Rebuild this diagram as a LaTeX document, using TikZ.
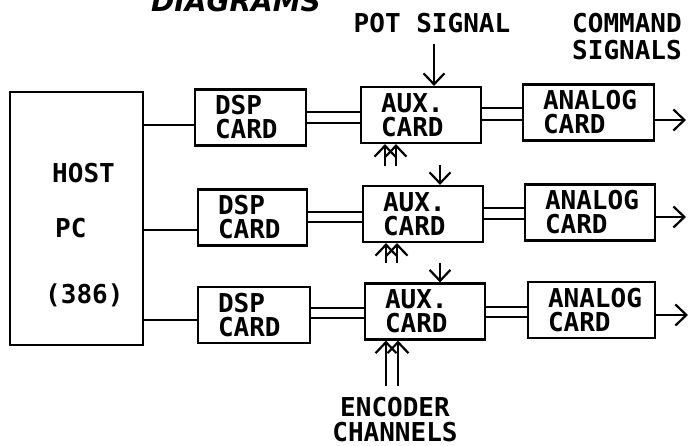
\documentclass[tikz,border=0pt]{standalone}
\usepackage{fontspec}
\newfontfamily\plotfont{DejaVu Sans Mono}
\newfontfamily\headfont{DejaVu Sans}
\usetikzlibrary{arrows.meta}
\tikzset{
    card/.style={draw, line width=2.2pt, align=left, inner xsep=20pt, minimum height=56pt,
        font=\plotfont\bfseries\fontsize{26}{24}\selectfont},
    lbl/.style={font=\plotfont\bfseries\fontsize{26}{26}\selectfont, inner sep=0pt},
    link/.style={line width=2.2pt},
    sig/.style={line width=2.2pt, -{Straight Barb[length=11pt,width=21pt,line width=2.2pt]}}
}
\begin{document}
\begin{tikzpicture}[x=1pt, y=-1pt]
        \useasboundingbox (0,0) rectangle (691,446);
        \clip (0,0) rectangle (691,446);

        % Heading, cut at the top edge
        \node[font=\headfont\bfseries\itshape\fontsize{28}{28}\selectfont, anchor=base] (head) at (236,12) {DIAGRAMS};

        % Host computer
        \node[draw, line width=2.2pt, minimum width=133pt, minimum height=253pt] (host) at (76.5,218.5) {};
        \node[lbl, anchor=west] (hostA) at (52,173) {HOST};
        \node[lbl, anchor=west] (hostB) at (55,228) {PC};
        \node[lbl, anchor=west] (hostC) at (45,295) {(386)};

        % Labels
        \node[lbl] (pot) at (432,23) {POT SIGNAL};
        \node[lbl, font=\plotfont\bfseries\fontsize{26}{27}\selectfont, align=left, anchor=north west] (cmd) at (572,13) {COMMAND\\SIGNALS};
        \node[lbl, font=\plotfont\bfseries\fontsize{26}{25}\selectfont, align=center, anchor=north] (enc) at (395,397) {ENCODER\\CHANNELS};

        % Row 1
        \node[card, text width=71pt] (dspA) at (250.5,117.5) {DSP\\CARD};
        \node[card, text width=80pt] (auxA) at (421,115) {AUX.\\CARD};
        \node[card, text width=91pt] (anaA) at (588.5,112.5) {ANALOG\\CARD};
        \draw[link] ([yshift=-7.5pt]dspA.west) -- ([yshift=-7.5pt]dspA.west -| host.east);
        \draw[link] ([yshift=5.5pt]dspA.east) -- ([yshift=5.5pt]dspA.east -| auxA.west);
        \draw[link] ([yshift=-5.5pt]dspA.east) -- ([yshift=-5.5pt]dspA.east -| auxA.west);
        \draw[link] ([yshift=4.5pt]anaA.west) -- ([yshift=4.5pt]anaA.west -| auxA.east);
        \draw[link] ([yshift=-7.5pt]anaA.west) -- ([yshift=-7.5pt]anaA.west -| auxA.east);
        \coordinate (potA) at (434,44);
        \draw[sig] (potA) -- (potA |- auxA.north);
        \coordinate (encA) at (385,166);
        \draw[sig] (encA) -- (encA |- auxA.south);
        \draw[sig] ([xshift=11pt]encA) -- ([xshift=11pt]encA |- auxA.south);
        \coordinate (outA) at (686,120);
        \draw[sig] (outA -| anaA.east) -- (outA);

        % Row 2
        \node[card, text width=69pt] (dspB) at (252.5,217.5) {DSP\\CARD};
        \node[card, text width=80pt] (auxB) at (423,214) {AUX.\\CARD};
        \node[card, text width=90pt] (anaB) at (590,212.5) {ANALOG\\CARD};
        \draw[link] ([yshift=-12.5pt]dspB.west) -- ([yshift=-12.5pt]dspB.west -| host.east);
        \draw[link] ([yshift=5.5pt]dspB.east) -- ([yshift=5.5pt]dspB.east -| auxB.west);
        \draw[link] ([yshift=-4.5pt]dspB.east) -- ([yshift=-4.5pt]dspB.east -| auxB.west);
        \draw[link] ([yshift=4.5pt]anaB.west) -- ([yshift=4.5pt]anaB.west -| auxB.east);
        \draw[link] ([yshift=-6.5pt]anaB.west) -- ([yshift=-6.5pt]anaB.west -| auxB.east);
        \coordinate (potB) at (440,165);
        \draw[sig] (potB) -- (potB |- auxB.north);
        \coordinate (encB) at (386,263);
        \draw[sig] (encB) -- (encB |- auxB.south);
        \draw[sig] ([xshift=11pt]encB) -- ([xshift=11pt]encB |- auxB.south);
        \coordinate (outB) at (686,217);
        \draw[sig] (outB -| anaB.east) -- (outB);

        % Row 3
        \node[card, text width=72pt] (dspC) at (254,315) {DSP\\CARD};
        \node[card, text width=80pt] (auxC) at (425,311.5) {AUX.\\CARD};
        \node[card, text width=87pt] (anaC) at (591.5,310) {ANALOG\\CARD};
        \draw[link] ([yshift=-5pt]dspC.west) -- ([yshift=-5pt]dspC.west -| host.east);
        \draw[link] ([yshift=7pt]dspC.east) -- ([yshift=7pt]dspC.east -| auxC.west);
        \draw[link] ([yshift=-3pt]dspC.east) -- ([yshift=-3pt]dspC.east -| auxC.west);
        \draw[link] ([yshift=3pt]anaC.west) -- ([yshift=3pt]anaC.west -| auxC.east);
        \draw[link] ([yshift=-7pt]anaC.west) -- ([yshift=-7pt]anaC.west -| auxC.east);
        \coordinate (potC) at (440,263);
        \draw[sig] (potC) -- (potC |- auxC.north);
        \coordinate (encC) at (386,386);
        \draw[sig] (encC) -- (encC |- auxC.south);
        \draw[sig] ([xshift=12pt]encC) -- ([xshift=12pt]encC |- auxC.south);
        \coordinate (outC) at (688,315);
        \draw[sig] (outC -| anaC.east) -- (outC);
\end{tikzpicture}
\end{document}
